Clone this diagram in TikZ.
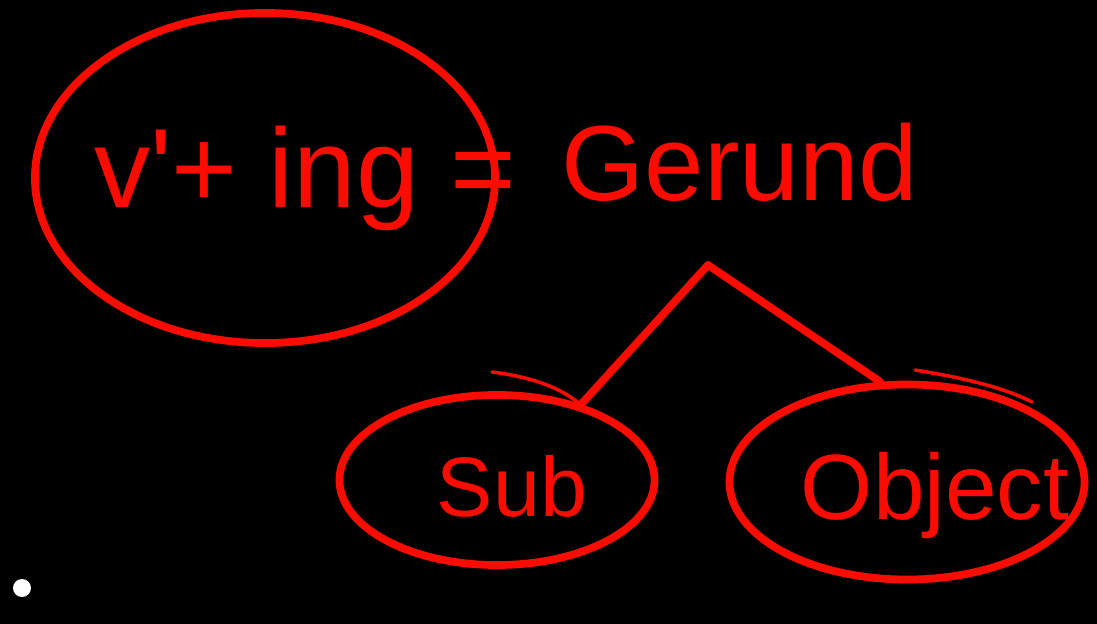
\documentclass[tikz,border=0pt]{standalone}
\usepackage{fontspec}
\setmainfont{Liberation Sans}
\usetikzlibrary{shapes.geometric, positioning}
\definecolor{ink}{RGB}{250,12,0}
\tikzset{bubble/.style={draw=ink, ellipse, line width=5.5pt, inner sep=0pt}, % hand drawn rings
         scrawl/.style={text=ink, inner sep=0pt},
         stroke/.style={draw=ink, line width=5.5pt, line cap=round, line join=round},
         flick/.style={draw=ink, line width=2.5pt, line cap=round}}

\begin{document}
\begin{tikzpicture}[x=0.025cm, y=-0.025cm]
    \fill[black] (0,0) rectangle (1097,624);
    \useasboundingbox (0,0) rectangle (1097,624);

    \node[bubble, minimum width=11.5cm, minimum height=8.25cm] (rule) at (265,178) {};
    \node[scrawl, font=\fontsize{80}{80}\selectfont] (formula) at (305,178) {v\textquotesingle+ ing =};
    \node[scrawl, font=\fontsize{76}{76}\selectfont] (gerund) at (740,162) {Gerund};

    \coordinate (apex) at (708,265);
    \node[bubble, minimum width=7.875cm, minimum height=4.25cm] (sub) at (497,480) {};
    \node[bubble, minimum width=8.875cm, minimum height=4.875cm] (obj) at (907,482) {};
    \node[scrawl, font=\fontsize{60}{60}\selectfont] (subtext) at (512,486) {Sub};
    \node[scrawl, font=\fontsize{66}{66}\selectfont] (objtext) at (935,495) {Object};

    \draw[stroke] (apex) -- (sub.42);
    \draw[stroke] (apex) -- (obj.105);
    \draw[flick] (492,372) .. controls (540,378) and (570,392) .. (588,412);
    \draw[flick] (915,370) .. controls (965,378) and (1005,388) .. (1032,402);

    \fill[white] (22,588) circle (9);
\end{tikzpicture}
\end{document}
